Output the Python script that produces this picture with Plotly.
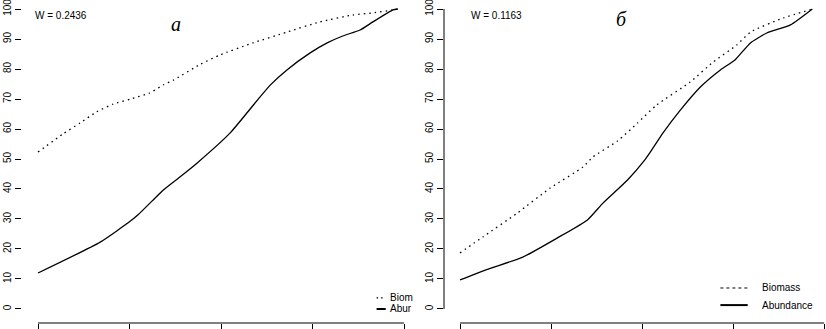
import plotly.graph_objects as go

# ---- data (x = position in x-axis tick units, y = cumulative %) ----
a_bio_x = [0, 0.27, 0.46, 0.64, 0.82, 1.01, 1.22, 1.37, 1.48, 1.77, 1.99, 2.35, 2.72, 3.08, 3.44, 3.66, 3.88, 3.93]
a_bio_y = [52.3, 58.3, 62, 65.7, 68.3, 70, 72, 74.7, 76.3, 81.5, 84.7, 88.7, 92.3, 95.7, 98, 98.7, 99.7, 100]
a_abu_x = [0, 0.68, 1.01, 1.09, 1.28, 1.37, 1.55, 1.74, 2.10, 2.40, 2.54, 2.72, 2.97, 3.16, 3.33, 3.52, 3.66, 3.88, 3.93]
a_abu_y = [12, 22.3, 29.3, 31.3, 37, 39.7, 44, 48.7, 58.7, 69.7, 74.7, 79.7, 85.3, 88.7, 91, 93, 95.7, 99.7, 100]

b_bio_x = [0, 0.25, 0.63, 0.99, 1.35, 1.46, 1.73, 1.95, 2.16, 2.53, 2.78, 3.04, 3.19, 3.55, 3.88]
b_bio_y = [18.7, 24, 32, 40.3, 47.3, 50.7, 56, 62, 68, 75.7, 82.3, 88, 92.3, 97, 100]
b_abu_x = [0, 0.31, 0.69, 1.07, 1.40, 1.57, 1.84, 2.03, 2.09, 2.23, 2.42, 2.64, 2.86, 3.02, 3.19, 3.37, 3.63, 3.87]
b_abu_y = [9.7, 13.3, 17.3, 23.7, 29.7, 35.3, 43, 49.7, 52.3, 58.7, 66.3, 74, 79.7, 83, 88.7, 92, 94.7, 100]

y_ticks = [0, 10, 20, 30, 40, 50, 60, 70, 80, 90, 100]
x_ticks = [0, 1, 2, 3, 4]
w_labels = ["W = 0.2436", "W = 0.1163"]
panel_labels = ["а", "б"]
legend_left = ["Biom", "Abur"]
legend_right = ["Biomass", "Abundance"]

W, H = 826, 329
fig = go.Figure()

dot = "1.5px,4px"
def ln(dash=None):
    d = dict(color="black", width=1.3, shape="spline", smoothing=0.5)
    if dash:
        d["dash"] = dash
    return d

fig.add_trace(go.Scatter(x=a_bio_x, y=a_bio_y, mode="lines", line=ln(dot), xaxis="x", yaxis="y"))
fig.add_trace(go.Scatter(x=a_abu_x, y=a_abu_y, mode="lines", line=ln(), xaxis="x", yaxis="y"))
fig.add_trace(go.Scatter(x=b_bio_x, y=b_bio_y, mode="lines", line=ln(dot), xaxis="x2", yaxis="y2"))
fig.add_trace(go.Scatter(x=b_abu_x, y=b_abu_y, mode="lines", line=ln(), xaxis="x2", yaxis="y2"))

font = "Liberation Sans, Arial, sans-serif"
yax = dict(range=[-4.67, 103], tickvals=y_ticks, ticks="outside", ticklen=6, tickwidth=1,
           tickcolor="black", showgrid=False, zeroline=False, showline=False, tickangle=-90,
           ticklabeloverflow="allow",
           tickfont=dict(family=font, size=10, color="black"), automargin=False, domain=[0, 1])
xax = dict(tickvals=x_ticks, ticks="outside", ticklen=10, tickwidth=1, tickcolor="black",
           showticklabels=False, showgrid=False, zeroline=False, showline=False, automargin=False)

fig.update_layout(
    width=W, height=H, template="none", showlegend=False,
    paper_bgcolor="white", plot_bgcolor="white",
    margin=dict(l=0, r=0, t=0, b=6),
    xaxis=dict(xax, domain=[22 / W, 412 / W], range=[-0.175, 4.087], anchor="y"),
    yaxis=dict(yax, anchor="x"),
    xaxis2=dict(xax, domain=[444 / W, 1.0], range=[-0.176, 4.02], anchor="y2"),
    yaxis2=dict(yax, anchor="x2"),
)

shapes = []
# x-axis lines (first to last tick)
for xr in ["x", "x2"]:
    shapes.append(dict(type="line", xref=xr, yref="paper", x0=x_ticks[0], x1=x_ticks[-1], y0=0, y1=0,
                       line=dict(color="black", width=1)))
# right panel y-axis line
shapes.append(dict(type="line", xref="x2 domain", yref="y2", x0=0, x1=0, y0=y_ticks[0], y1=y_ticks[-1],
                   line=dict(color="black", width=1)))
# legend samples
shapes.append(dict(type="line", xref="x", yref="y", x0=3.70, x1=3.78, y0=3.7, y1=3.7,
                   line=dict(color="black", width=1.3, dash="1.5px,3px")))
shapes.append(dict(type="line", xref="x", yref="y", x0=3.70, x1=3.80, y0=0, y1=0,
                   line=dict(color="black", width=2)))
shapes.append(dict(type="line", xref="x2", yref="y2", x0=2.86, x1=3.16, y0=7, y1=7,
                   line=dict(color="black", width=1, dash="3px,3px")))
shapes.append(dict(type="line", xref="x2", yref="y2", x0=2.86, x1=3.16, y0=1.3, y1=1.3,
                   line=dict(color="black", width=2)))
fig.update_layout(shapes=shapes)

ann = []
tf = dict(family=font, size=10, color="black")
ann.append(dict(xref="x", yref="y", x=-0.055, y=98, text=w_labels[0], showarrow=False, xanchor="left", font=tf))
ann.append(dict(xref="x2", yref="y2", x=0.10, y=98, text=w_labels[1], showarrow=False, xanchor="left", font=tf))
pf = dict(family="Liberation Serif, Times New Roman, serif", size=20, color="black")
ann.append(dict(xref="x", yref="y", x=1.51, y=95, text="<i>" + panel_labels[0] + "</i>", showarrow=False, font=pf))
ann.append(dict(xref="x2", yref="y2", x=1.77, y=96.7, text="<i>" + panel_labels[1] + "</i>", showarrow=False, font=pf))
ann.append(dict(xref="x", yref="y", x=3.83, y=3.7, text=legend_left[0], showarrow=False, xanchor="left", font=tf))
ann.append(dict(xref="x", yref="y", x=3.83, y=0, text=legend_left[1], showarrow=False, xanchor="left", font=tf))
ann.append(dict(xref="x2", yref="y2", x=3.30, y=7, text=legend_right[0], showarrow=False, xanchor="left", font=tf))
ann.append(dict(xref="x2", yref="y2", x=3.30, y=1.3, text=legend_right[1], showarrow=False, xanchor="left", font=tf))
fig.update_layout(annotations=ann)

fig.write_html("out.html", config={"displayModeBar": False},
               post_script="document.body.style.margin='0';document.body.style.overflow='hidden';")
